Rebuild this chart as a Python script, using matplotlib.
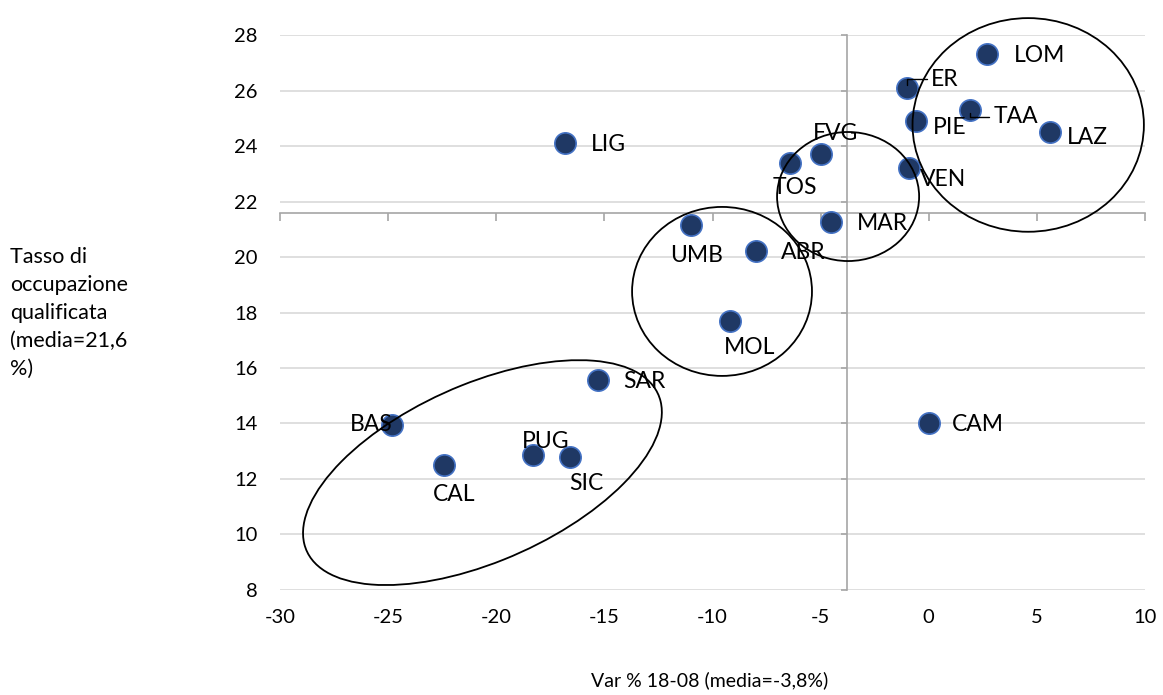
import numpy as np
import matplotlib.pyplot as plt
from matplotlib.patches import Ellipse

# --- data ---
regions = ["LOM", "ER", "TAA", "PIE", "LAZ", "LIG", "FVG", "TOS", "VEN", "MAR",
           "UMB", "ABR", "MOL", "SAR", "BAS", "CAM", "CAL", "PUG", "SIC"]
var_18_08 = [2.7, -1.0, 1.9, -0.6, 5.6, -16.8, -5.0, -6.4, -0.9, -4.5,
             -11.0, -8.0, -9.2, -15.3, -24.8, 0.0, -22.4, -18.3, -16.6]
occ_qual = [27.3, 26.1, 25.3, 24.9, 24.5, 24.1, 23.7, 23.4, 23.2, 21.25,
            21.15, 20.2, 17.7, 15.55, 13.95, 14.0, 12.5, 12.85, 12.8]

MEDIA_X = -3.8
MEDIA_Y = 21.6

# label offsets in points (dx, dy) and horizontal alignment
label_pos = {
    "LOM": (19, -1, "left"), "ER": (17, 6, "left"), "TAA": (17, -5, "left"),
    "PIE": (12, -5, "left"), "LAZ": (12, -4, "left"), "LIG": (18, -1, "left"),
    "FVG": (11, 15, "center"), "TOS": (3, -18, "center"), "VEN": (8, -8, "left"),
    "MAR": (18, -1, "left"), "UMB": (4, -22, "center"), "ABR": (18, -1, "left"),
    "MOL": (14, -19, "center"), "SAR": (18, -1, "left"), "BAS": (0, 0, "right"),
    "CAM": (17, -1, "left"), "CAL": (7, -21, "center"), "PUG": (9, 10, "center"),
    "SIC": (12, -19, "center"),
}
leaders = {"ER", "TAA"}

# groups circled by hand: centre, width, height, angle (data units)
groups = [
    ((4.6, 24.76), 10.7, 7.7, 0),
    ((-3.73, 22.18), 6.57, 4.65, 0),
    ((-9.56, 18.76), 8.32, 6.09, 0),
    ((-20.64, 12.23), 17.26, 6.57, 17.3),
]

plt.rcParams['font.family'] = ['Lato', 'DejaVu Sans']
plt.rcParams['axes.unicode_minus'] = False

fig = plt.figure(figsize=(11.63, 6.95), dpi=100)
ax = fig.add_axes([0.2408, 0.1511, 0.7437, 0.7985])

ax.scatter(var_18_08, occ_qual, s=235, color="#1f3864", edgecolors="#4472c4",
           linewidths=1.2, zorder=3)

for name, x, y in zip(regions, var_18_08, occ_qual):
    dx, dy, ha = label_pos[name]
    props = None
    if name in leaders:
        props = dict(arrowstyle="-", color="black", lw=1, shrinkA=1, shrinkB=2,
                     connectionstyle="angle,angleA=0,angleB=90")
    ax.annotate(name, (x, y), xytext=(dx, dy), textcoords="offset points",
                ha=ha, va="center", fontsize=16.5, color="black", zorder=4,
                arrowprops=props)

for (cx, cy), w, h, ang in groups:
    ax.add_patch(Ellipse((cx, cy), w, h, angle=ang, fill=False,
                         edgecolor="black", lw=1.3, zorder=5, clip_on=False))

ax.set_xlim(-30, 10)
ax.set_ylim(8, 28)
ax.set_xticks(np.arange(-30, 11, 5))
ax.set_yticks(np.arange(8, 29, 2))

# axes crossing at the averages
ax.spines["top"].set_position(("data", MEDIA_Y))
ax.spines["right"].set_position(("data", MEDIA_X))
for s in ("top", "right"):
    ax.spines[s].set_color("#a6a6a6")
    ax.spines[s].set_linewidth(1.2)
for s in ("left", "bottom"):
    ax.spines[s].set_visible(False)

ax.tick_params(axis="x", bottom=False, labelbottom=True, top=True, labeltop=False,
               direction="in", length=6, width=1.2, color="#a6a6a6",
               labelsize=14.5, pad=14)
ax.tick_params(axis="y", left=False, labelleft=True, right=True, labelright=False,
               direction="in", length=4, width=1.2, color="#a6a6a6",
               labelsize=14.5, pad=16)

ax.grid(axis="y", color="#d9d9d9", lw=1.2, zorder=0)
ax.set_axisbelow(True)

fig.text(0.6105, 0.0216, "Var % 18-08 (media=-3,8%)", ha="center", va="center",
         fontsize=14)
fig.text(0.009, 0.55, "Tasso di\noccupazione\nqualificata\n(media=21,6\n%)",
         ha="left", va="center", fontsize=15.5, linespacing=1.5)

fig.savefig("out.png", dpi=100)
